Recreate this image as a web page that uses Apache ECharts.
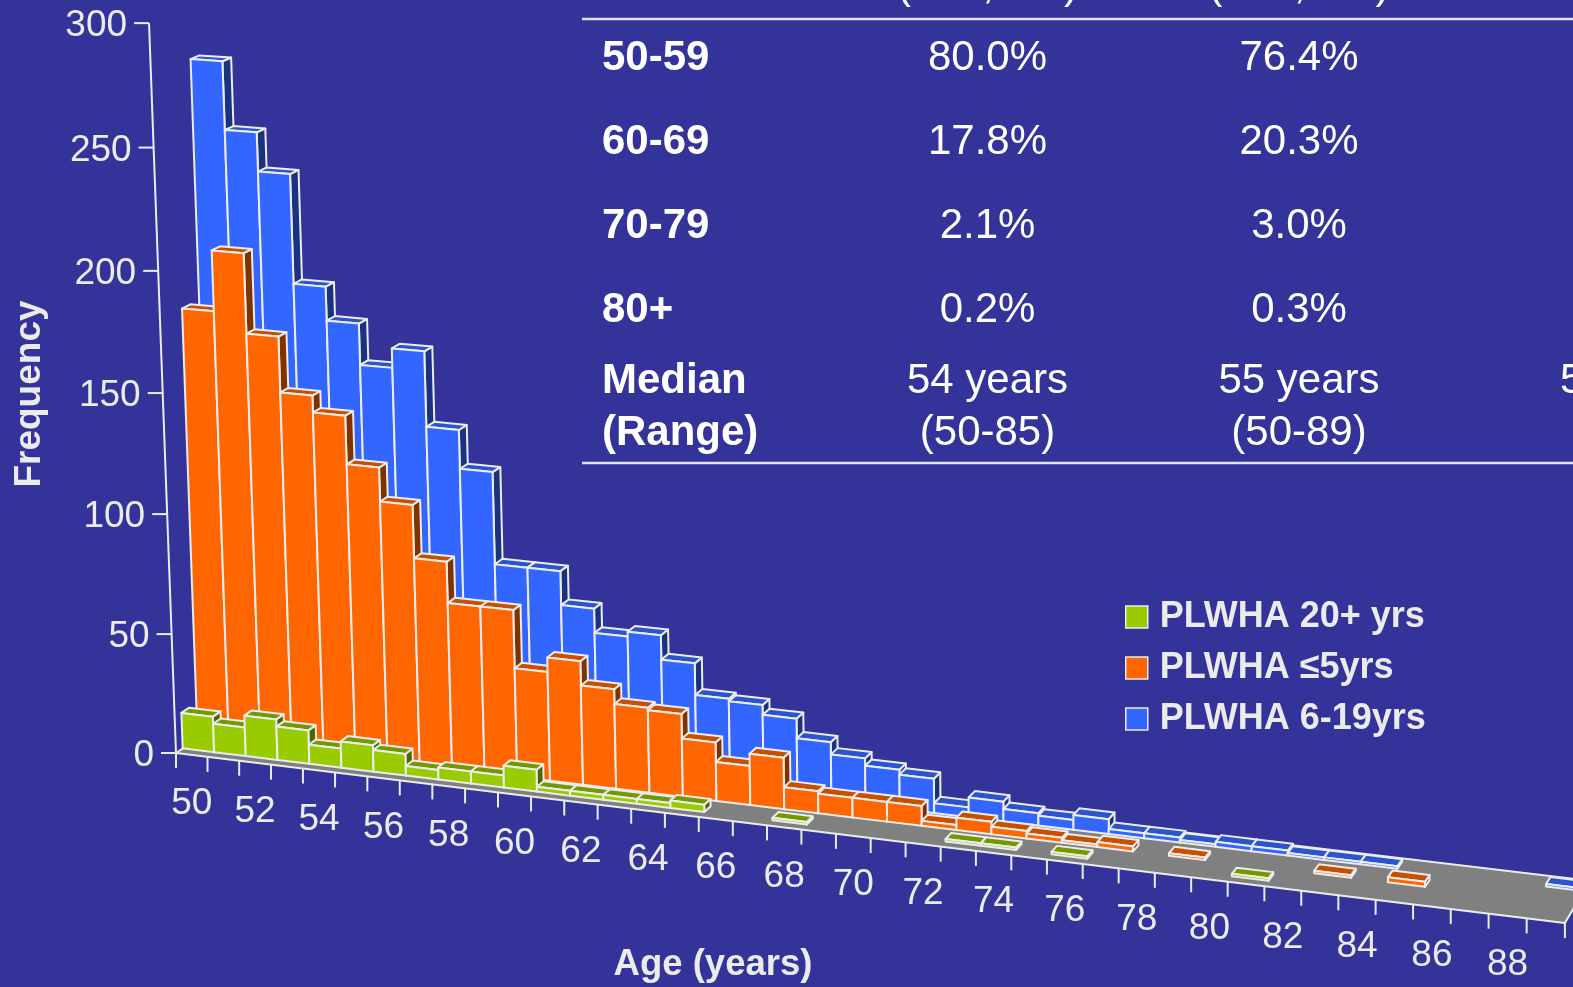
<!DOCTYPE html>
<html>
<head>
<meta charset="utf-8">
<style>html,body{margin:0;padding:0;background:#333399;overflow:hidden}#main{width:1573px;height:987px}</style>
<script src="https://cdn.jsdelivr.net/npm/echarts@6/dist/echarts.min.js"></script>
</head>
<body>
<div id="main"></div>
<script>
var ages = [50,51,52,53,54,55,56,57,58,59,60,61,62,63,64,65,66,67,68,69,70,71,72,73,74,75,76,77,78,79,80,81,82,83,84,85,86,87,88,89];
var blueValues   = [279,251,235,190,176,159,167,136,120,82,82,68,58,60,50,37,36,32,24,19,16,14,4,8,5,4,6,2,2,1,2,2,1,1,1,0,0,0,0,1];
var orangeValues = [180,205,172,149,142,122,108,86,69,69,45,51,41,35,34,24,16,21,9,8,8,8,2,5,3,2,1,2,0,1,0,0,0,1,0,2,0,0,0,0];
var greenValues  = [15,12,17,14,8,11,9,4,5,5,9,2,2,2,2,3,0,0,1,0,0,0,0,1,1,0,1,0,0,0,0,1,0,0,0,0,0,0,0,0];
var yTicks = [0,50,100,150,200,250,300];
var xTickAges = [50,51,52,53,54,55,56,57,58,59,60,61,62,63,64,65,66,67,68,69,70,71,72,73,74,75,76,77,78,79,80,81,82,83,84,85,86,87,88,89,90];
var xLabels = [50,52,54,56,58,60,62,64,66,68,70,72,74,76,78,80,82,84,86,88];
var tableRows = [
    ['50-59', '80.0%', '76.4%'],
    ['60-69', '17.8%', '20.3%'],
    ['70-79', '2.1%', '3.0%'],
    ['80+', '0.2%', '0.3%']
];
var headerCells = ['(n=1,313)', '(n=1,313)'];

var textColor = '#ebebeb';
var edgeColor = '#ececec';
var fontName = '"Liberation Sans", Arial, sans-serif';

// flat grid the axes live on, it is then pushed through the camera below
var gridBox = {left: 100, top: 100, width: 1000, height: 600};

// camera: u = years from 50, v = frequency, w = depth 0..1
function project(u, v, w) {
    var z = 1 - 0.002366 * u - 0.00009 * v + 0.02064 * w;
    return [
        (176 + 31.02 * u - 0.1033 * v + 55.4 * w) / z,
        (753 + 2.067 * u - 2.435 * v - 20.2 * w) / z
    ];
}

function point(api, age, value, w) {
    var c = api.coord([age, value]);
    var u = (c[0] - gridBox.left) / gridBox.width * 40;
    var v = (gridBox.top + gridBox.height - c[1]) / gridBox.height * 300;
    return project(u, v, w);
}

function face(points, fill) {
    return {
        type: 'polygon',
        silent: true,
        shape: {points: points},
        style: {fill: fill, stroke: edgeColor, lineWidth: 2, lineJoin: 'round'}
    };
}

function line(p1, p2) {
    return {
        type: 'line',
        silent: true,
        shape: {x1: p1[0], y1: p1[1], x2: p2[0], y2: p2[1]},
        style: {stroke: edgeColor, lineWidth: 2}
    };
}

function label(text, x, y, align) {
    return {
        type: 'text',
        silent: true,
        style: {text: String(text), x: x, y: y, fill: textColor, font: '37px ' + fontName, align: align, verticalAlign: 'middle'}
    };
}

function renderAxes(params, api) {
    var kids = [];
    kids.push(face([point(api, 50, 0, 0), point(api, 90, 0, 0), point(api, 90, 0, 1), point(api, 50, 0, 1)], '#808080'));
    kids.push(line(point(api, 50, 300, 0), point(api, 50, 0, 0)));
    yTicks.forEach(function (t) {
        var p = point(api, 50, t, 0);
        kids.push(line([p[0] - 15, p[1]], p));
        kids.push(label(t, p[0] - 22, p[1] + 3, 'right'));
    });
    xTickAges.forEach(function (a) {
        var p = point(api, a, 0, 0);
        kids.push(line(p, [p[0], p[1] + 15]));
    });
    xLabels.forEach(function (a) {
        var p = point(api, a + 0.5, 0, 0);
        kids.push(label(a, p[0], p[1] + 49, 'center'));
    });
    return {type: 'group', children: kids};
}

function barSeries(name, values, w0, w1, front, top, side) {
    return {
        name: name,
        type: 'custom',
        coordinateSystem: 'cartesian2d',
        silent: true,
        clip: false,
        itemStyle: {color: front},
        data: ages.map(function (a, i) { return [a, values[i]]; }),
        encode: {x: 0, y: 1},
        renderItem: function (params, api) {
            var age = api.value(0), val = api.value(1);
            if (!val) {
                return null;
            }
            return {
                type: 'group',
                children: [
                    face([point(api, age + 1, 0, w0), point(api, age + 1, 0, w1), point(api, age + 1, val, w1), point(api, age + 1, val, w0)], side),
                    face([point(api, age, val, w0), point(api, age + 1, val, w0), point(api, age + 1, val, w1), point(api, age, val, w1)], top),
                    face([point(api, age, 0, w0), point(api, age + 1, 0, w0), point(api, age + 1, val, w0), point(api, age, val, w0)], front)
                ]
            };
        }
    };
}

// table and titles
var graphics = [];
function tableText(text, x, y, bold, align) {
    graphics.push({
        type: 'text',
        silent: true,
        style: {text: text, x: x, y: y, fill: '#ffffff', font: (bold ? 'bold ' : '') + '42px ' + fontName, align: align, verticalAlign: 'middle'}
    });
}
var rowY = [58, 142, 226, 310];
var colX = [987.5, 1299];
tableRows.forEach(function (row, i) {
    tableText(row[0], 602, rowY[i], true, 'left');
    tableText(row[1], colX[0], rowY[i], false, 'center');
    tableText(row[2], colX[1], rowY[i], false, 'center');
});
tableText(headerCells[0], colX[0], -14, false, 'center');
tableText(headerCells[1], colX[1], -14, false, 'center');
tableText('Median', 602, 381, true, 'left');
tableText('(Range)', 602, 433, true, 'left');
tableText('54 years', colX[0], 381, false, 'center');
tableText('(50-85)', colX[0], 433, false, 'center');
tableText('55 years', colX[1], 381, false, 'center');
tableText('(50-89)', colX[1], 433, false, 'center');
tableText('56 years', 1560, 381, false, 'left');
[19, 463].forEach(function (y) {
    graphics.push({
        type: 'line',
        silent: true,
        shape: {x1: 582, y1: y, x2: 1573, y2: y},
        style: {stroke: '#e4e4ee', lineWidth: 2.4}
    });
});
graphics.push({
    type: 'text',
    silent: true,
    x: 30, y: 394, rotation: Math.PI / 2,
    style: {text: 'Frequency', x: 0, y: 0, fill: textColor, font: 'bold 37px ' + fontName, align: 'center', verticalAlign: 'middle'}
});
graphics.push({
    type: 'text',
    silent: true,
    style: {text: 'Age (years)', x: 713, y: 965, fill: textColor, font: 'bold 36.5px ' + fontName, align: 'center', verticalAlign: 'middle'}
});

var myChart = echarts.init(document.getElementById('main'));
var option = {
    animation: false,
    backgroundColor: '#333399',
    grid: {left: gridBox.left, top: gridBox.top, width: gridBox.width, height: gridBox.height},
    xAxis: {type: 'value', min: 50, max: 90, show: false},
    yAxis: {type: 'value', min: 0, max: 300, interval: 50, show: false},
    legend: {
        left: 1120,
        top: 594,
        orient: 'vertical',
        itemWidth: 22,
        itemHeight: 22,
        itemGap: 15,
        selectedMode: false,
        textStyle: {color: textColor, fontFamily: fontName, fontWeight: 'bold', fontSize: 36, padding: [0, 0, 4, 7]},
        data: [
            {name: 'PLWHA 20+ yrs', icon: 'rect', itemStyle: {color: '#99cc00', borderColor: edgeColor, borderWidth: 1.5}},
            {name: 'PLWHA ≤5yrs', icon: 'rect', itemStyle: {color: '#ff6600', borderColor: edgeColor, borderWidth: 1.5}},
            {name: 'PLWHA 6-19yrs', icon: 'rect', itemStyle: {color: '#3366ff', borderColor: edgeColor, borderWidth: 1.5}}
        ]
    },
    graphic: graphics,
    series: [
        {
            type: 'custom',
            coordinateSystem: 'cartesian2d',
            silent: true,
            clip: false,
            data: [[50, 0]],
            encode: {x: 0, y: 1},
            renderItem: renderAxes
        },
        barSeries('PLWHA 6-19yrs', blueValues, 0.75, 0.92, '#3366ff', '#2a55cc', '#1a3380'),
        barSeries('PLWHA ≤5yrs', orangeValues, 0.42, 0.58, '#ff6600', '#c65000', '#803300'),
        barSeries('PLWHA 20+ yrs', greenValues, 0.13, 0.28, '#99cc00', '#749900', '#4d6600')
    ]
};
myChart.setOption(option);
</script>
</body>
</html>
